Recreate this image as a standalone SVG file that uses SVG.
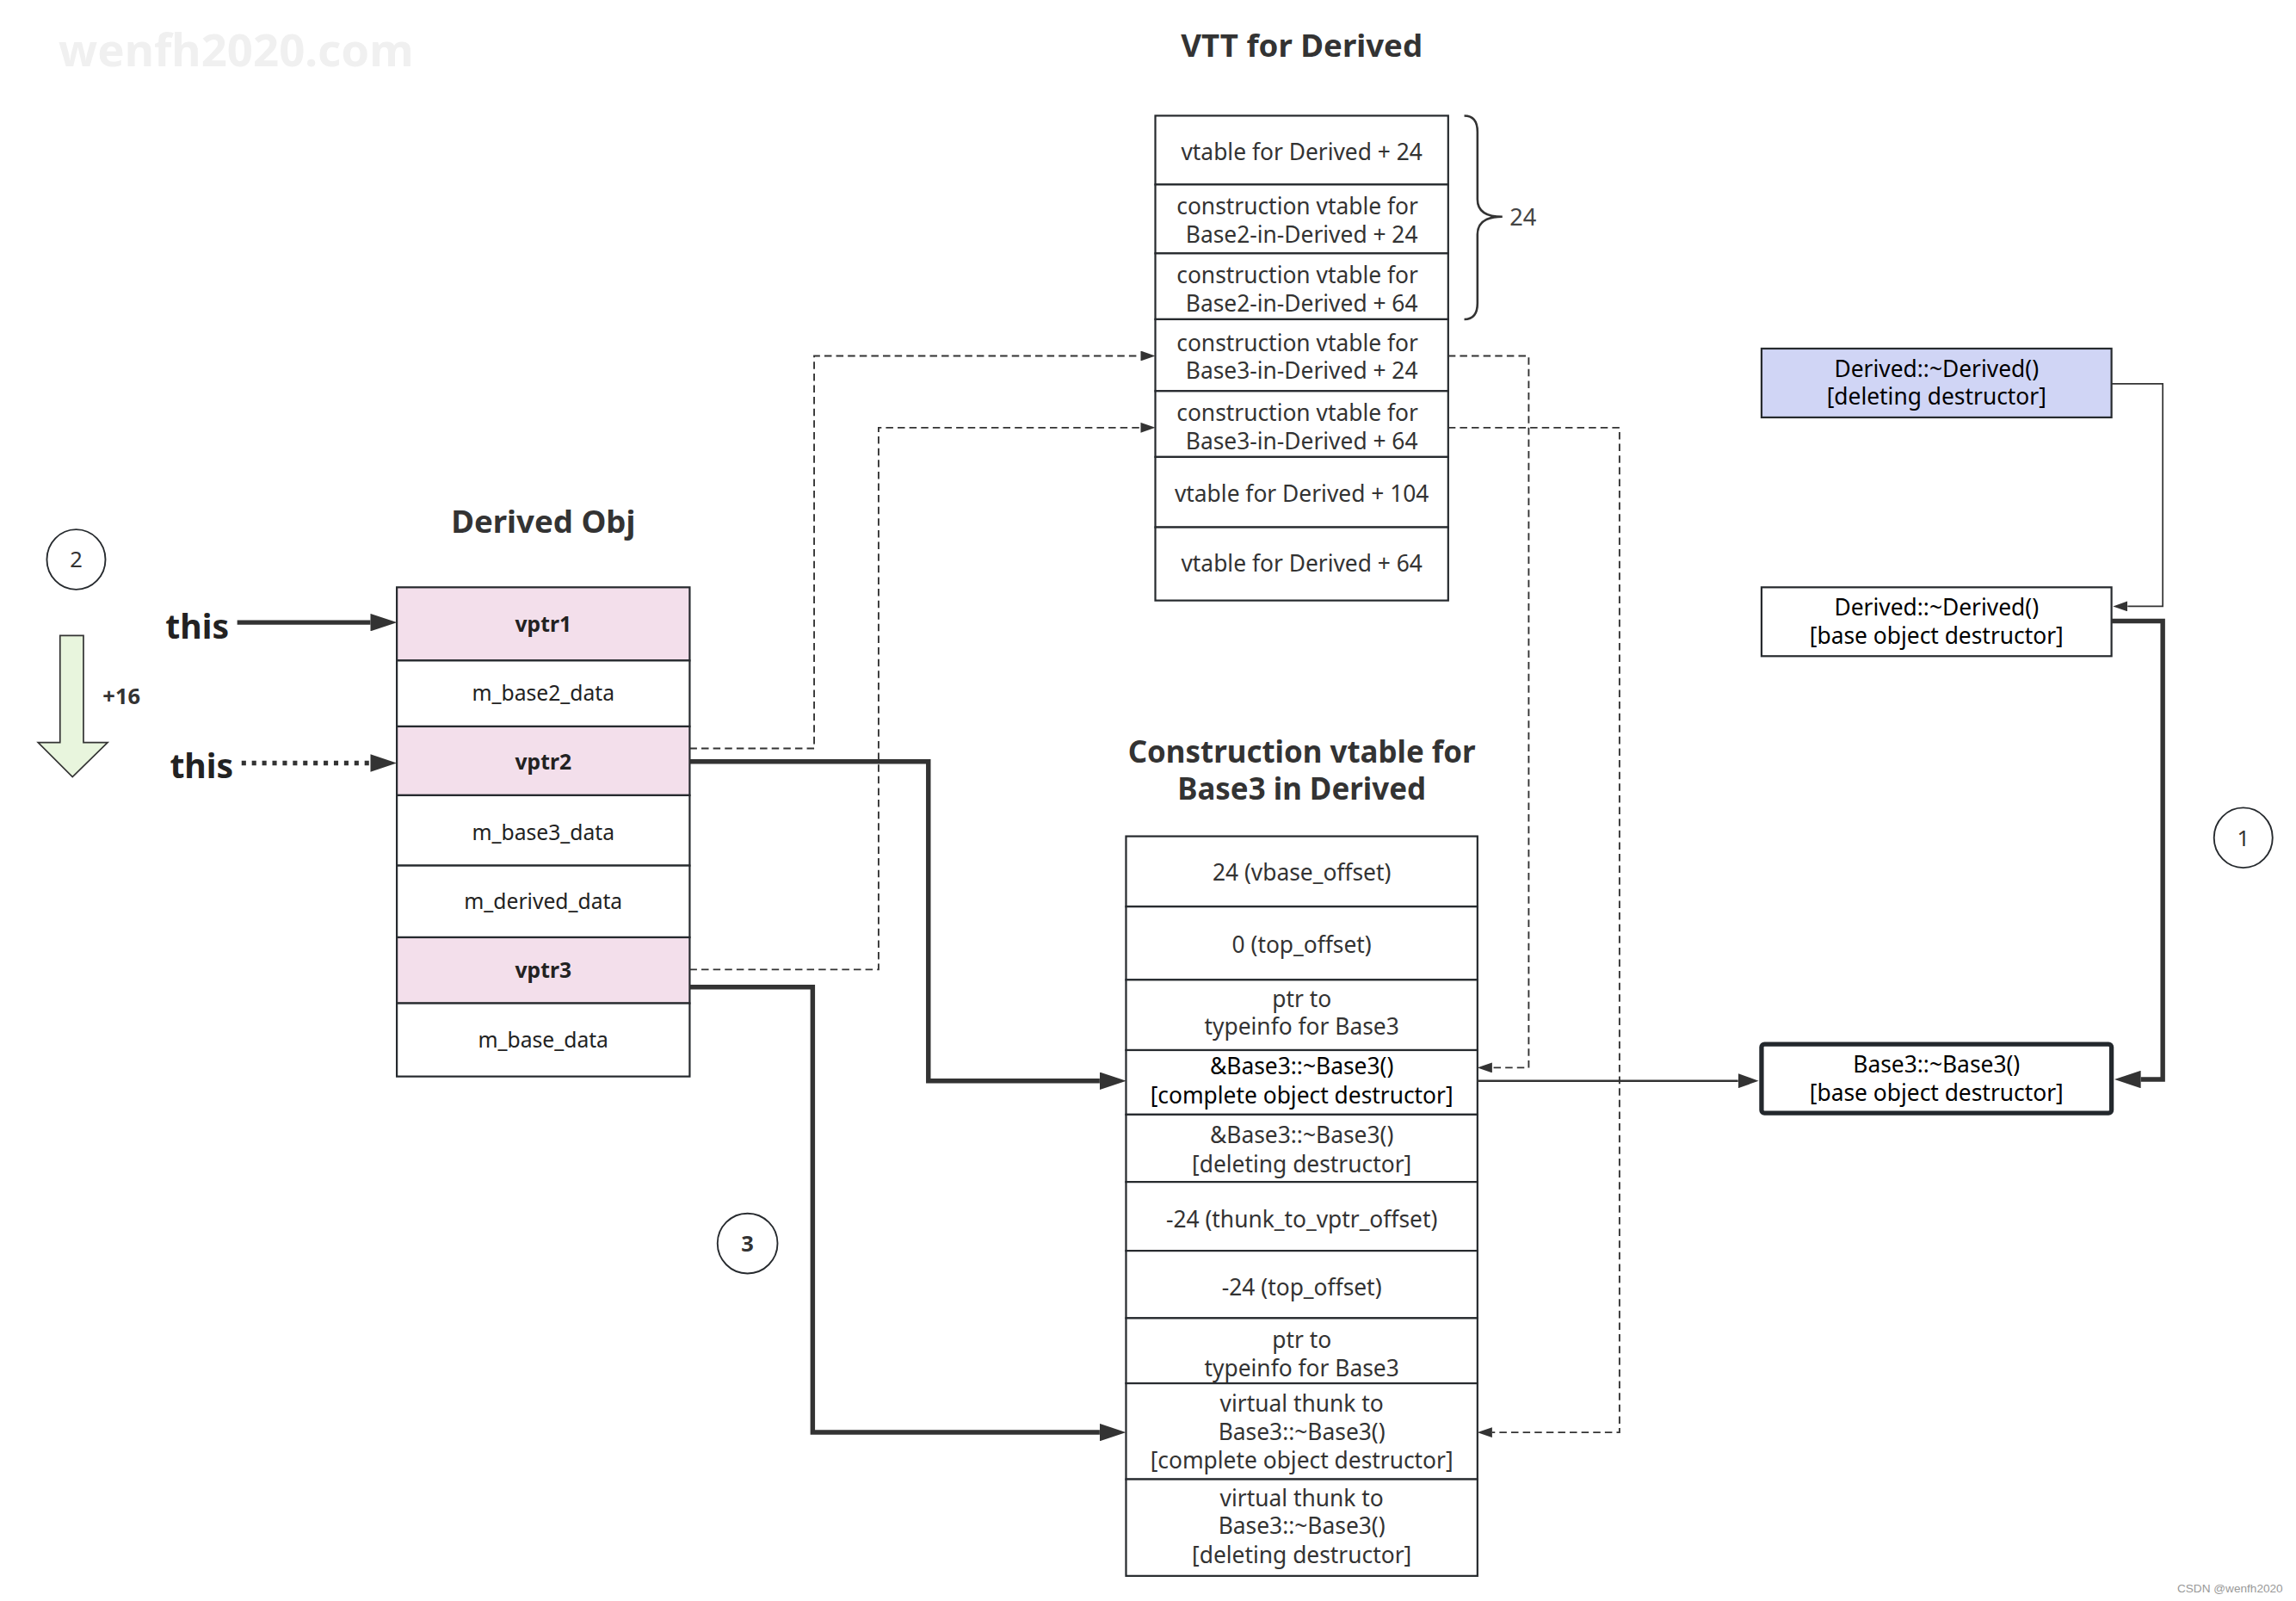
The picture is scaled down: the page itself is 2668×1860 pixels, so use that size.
<svg xmlns="http://www.w3.org/2000/svg" width="2668" height="1860" viewBox="0 0 2668 1860">
<defs>
<style>
.t{font-family:"Noto Sans",sans-serif;font-size:15.5px;fill:#333;text-anchor:middle}
.k{fill:#000}
.b{font-weight:bold}
.title{font-family:"Noto Sans",sans-serif;font-size:21.5px;font-weight:bold;fill:#333;text-anchor:middle}
.cell{fill:#fff;stroke:#262a2e;stroke-width:1.3}
.pink{fill:#f3dfeb}
.circ{fill:none;stroke:#262a2e;stroke-width:1.1}
.dash{fill:none;stroke:#333;stroke-width:1.1;stroke-dasharray:5 3}
.thick{fill:none;stroke:#333;stroke-width:3.2}
.thin{fill:none;stroke:#333;stroke-width:1}
.mid{fill:none;stroke:#333;stroke-width:1.5}
</style>
<marker id="aL" markerUnits="userSpaceOnUse" markerWidth="18" markerHeight="12" viewBox="0 0 18 12" refX="0" refY="6" orient="auto"><path d="M0,0L18,6L0,12z" fill="#333"/></marker>
<marker id="aM" markerUnits="userSpaceOnUse" markerWidth="14" markerHeight="10" viewBox="0 0 14 10" refX="0" refY="5" orient="auto"><path d="M0,0L14,5L0,10z" fill="#333"/></marker>
<marker id="aS" markerUnits="userSpaceOnUse" markerWidth="10" markerHeight="7" viewBox="0 0 10 7" refX="0" refY="3.5" orient="auto"><path d="M0,0L10,3.5L0,7z" fill="#333"/></marker>
</defs>
<rect width="2668" height="1860" fill="#fff"/>
<g transform="scale(1.70153)">

<g id="watermark">
<text x="40" y="45" style="font-family:'Noto Sans',sans-serif;font-size:31px;font-weight:bold;fill:#f0f0f0">wenfh2020.com</text>
<text x="1559" y="1087" style="font-family:'Liberation Sans',Arial,sans-serif;font-size:8px;fill:#999;text-anchor:end">CSDN @wenfh2020</text>
</g>

<g id="vtt">
<text class="title" x="889" y="39">VTT for Derived</text>
<rect class="cell" x="789" y="79" width="200" height="47"/>
<rect class="cell" x="789" y="126" width="200" height="47"/>
<rect class="cell" x="789" y="173" width="200" height="45"/>
<rect class="cell" x="789" y="218" width="200" height="49"/>
<rect class="cell" x="789" y="267" width="200" height="45"/>
<rect class="cell" x="789" y="312" width="200" height="48"/>
<rect class="cell" x="789" y="360" width="200" height="50"/>
<text class="t" x="889" y="109.5">vtable for Derived + 24</text>
<text class="t" x="886" y="146.5">construction vtable for</text>
<text class="t" x="889" y="165.5">Base2-in-Derived + 24</text>
<text class="t" x="886" y="193.5">construction vtable for</text>
<text class="t" x="889" y="212.5">Base2-in-Derived + 64</text>
<text class="t" x="886" y="239.5">construction vtable for</text>
<text class="t" x="889" y="258.5">Base3-in-Derived + 24</text>
<text class="t" x="886" y="287.5">construction vtable for</text>
<text class="t" x="889" y="306.5">Base3-in-Derived + 64</text>
<text class="t" x="889" y="342.5">vtable for Derived + 104</text>
<text class="t" x="889" y="390.5">vtable for Derived + 64</text>
</g>

<g id="brace">
<path d="M1000,79 Q1009,79 1009,90 V136 Q1009,148 1026,148 Q1009,148 1009,160 V207 Q1009,218 1000,218" fill="none" stroke="#333" stroke-width="1.5"/>
<text x="1031" y="154" style="font-family:'Noto Sans',sans-serif;font-size:16px;fill:#444">24</text>
</g>

<g id="derived-obj">
<text class="title" x="371" y="364">Derived Obj</text>
<rect class="cell pink" x="271" y="401" width="200" height="50"/>
<rect class="cell" x="271" y="451" width="200" height="45"/>
<rect class="cell pink" x="271" y="496" width="200" height="47"/>
<rect class="cell" x="271" y="543" width="200" height="48"/>
<rect class="cell" x="271" y="591" width="200" height="49"/>
<rect class="cell pink" x="271" y="640" width="200" height="45"/>
<rect class="cell" x="271" y="685" width="200" height="50"/>
<text class="t b" x="371" y="431.5" style="font-size:14.5px;fill:#222">vptr1</text>
<text class="t" x="371" y="478.5" style="font-size:14.5px;fill:#222">m_base2_data</text>
<text class="t b" x="371" y="525.5" style="font-size:14.5px;fill:#222">vptr2</text>
<text class="t" x="371" y="573.5" style="font-size:14.5px;fill:#222">m_base3_data</text>
<text class="t" x="371" y="620.5" style="font-size:14.5px;fill:#222">m_derived_data</text>
<text class="t b" x="371" y="667.5" style="font-size:14.5px;fill:#222">vptr3</text>
<text class="t" x="371" y="715.5" style="font-size:14.5px;fill:#222">m_base_data</text>
</g>

<g id="step2">
<ellipse class="circ" cx="52" cy="382" rx="20" ry="20.5"/>
<text class="t" x="52" y="387.5" style="font-size:15px">2</text>
<polygon points="41,434 57,434 57,507 73.5,507 49.5,530.5 26,507 41,507" fill="#e8f5dd" stroke="#333" stroke-width="1"/>
<text class="t b" x="83" y="481" style="font-size:15px">+16</text>
</g>

<g id="this-labels">
<text x="113" y="436" style="font-family:'Noto Sans',sans-serif;font-size:23px;font-weight:bold;fill:#222">this</text>
<text x="116" y="531" style="font-family:'Noto Sans',sans-serif;font-size:23px;font-weight:bold;fill:#222">this</text>
</g>

<g id="construction-vtable">
<text class="title" x="889" y="521" style="font-size:20.5px">Construction vtable for</text>
<text class="title" x="889" y="546" style="font-size:20.5px">Base3 in Derived</text>
<rect class="cell" x="769" y="571" width="240" height="48"/>
<rect class="cell" x="769" y="619" width="240" height="50"/>
<rect class="cell" x="769" y="669" width="240" height="48"/>
<rect class="cell" x="769" y="717" width="240" height="44"/>
<rect class="cell" x="769" y="761" width="240" height="46"/>
<rect class="cell" x="769" y="807" width="240" height="47"/>
<rect class="cell" x="769" y="854" width="240" height="46"/>
<rect class="cell" x="769" y="900" width="240" height="44.5"/>
<rect class="cell" x="769" y="944.5" width="240" height="65.5"/>
<rect class="cell" x="769" y="1010" width="240" height="66"/>
<text class="t" x="889" y="601.5">24 (vbase_offset)</text>
<text class="t" x="889" y="650.5">0 (top_offset)</text>
<text class="t" x="889" y="687.5">ptr to</text>
<text class="t" x="889" y="706.5">typeinfo for Base3</text>
<text class="t k" x="889" y="733.5">&amp;Base3::~Base3()</text>
<text class="t k" x="889" y="753.5">[complete object destructor]</text>
<text class="t" x="889" y="780.5">&amp;Base3::~Base3()</text>
<text class="t" x="889" y="800.5">[deleting destructor]</text>
<text class="t" x="889" y="838">-24 (thunk_to_vptr_offset)</text>
<text class="t" x="889" y="884.5">-24 (top_offset)</text>
<text class="t" x="889" y="920.5">ptr to</text>
<text class="t" x="889" y="939.5">typeinfo for Base3</text>
<text class="t" x="889" y="964">virtual thunk to</text>
<text class="t" x="889" y="983.5">Base3::~Base3()</text>
<text class="t" x="889" y="1002.5">[complete object destructor]</text>
<text class="t" x="889" y="1028.5">virtual thunk to</text>
<text class="t" x="889" y="1047.5">Base3::~Base3()</text>
<text class="t" x="889" y="1067">[deleting destructor]</text>
</g>

<g id="step3">
<ellipse class="circ" cx="510.5" cy="849" rx="20.5" ry="20.5"/>
<text class="t b" x="510.5" y="854.5" style="font-size:15px">3</text>
</g>

<g id="derived-deleting-dtor">
<rect x="1203" y="238" width="239" height="47" fill="#d0d5f5" stroke="#262a2e" stroke-width="1.3"/>
<text class="t k" x="1322.5" y="257.5">Derived::~Derived()</text>
<text class="t k" x="1322.5" y="276.5">[deleting destructor]</text>
</g>

<g id="derived-base-dtor">
<rect class="cell" x="1203" y="401" width="239" height="47"/>
<text class="t k" x="1322.5" y="420.5">Derived::~Derived()</text>
<text class="t k" x="1322.5" y="439.5">[base object destructor]</text>
</g>

<g id="base3-base-dtor">
<rect x="1203" y="713" width="239" height="47" rx="2" fill="#fff" stroke="#23282d" stroke-width="3.1"/>
<text class="t k" x="1322.5" y="732.5">Base3::~Base3()</text>
<text class="t k" x="1322.5" y="751.5">[base object destructor]</text>
</g>

<g id="step1">
<ellipse class="circ" cx="1532" cy="572" rx="20" ry="20.5"/>
<text class="t" x="1532" y="577.5" style="font-size:15px">1</text>
</g>

<g id="connectors">
<path class="thick" d="M162,425 H253" marker-end="url(#aL)"/>
<path class="thick" d="M165,521 H253" stroke-dasharray="3 4" marker-end="url(#aL)"/>
<path class="dash" d="M471,511 H556 V243 H779" marker-end="url(#aS)"/>
<path class="dash" d="M471,662 H600 V292 H779" marker-end="url(#aS)"/>
<path class="dash" d="M989,243 H1044 V729 H1019" marker-end="url(#aS)"/>
<path class="dash" d="M989,292 H1106 V978 H1019" marker-end="url(#aS)"/>
<path class="thick" d="M471,520 H634 V738 H751" marker-end="url(#aL)"/>
<path class="thick" d="M471,674 H555 V978 H751" marker-end="url(#aL)"/>
<path class="mid" d="M1009,738 H1187" marker-end="url(#aM)"/>
<path class="thin" d="M1442,262 H1477 V414 H1453" marker-end="url(#aS)"/>
<path class="thick" d="M1442,424 H1477 V737 H1462" marker-end="url(#aL)"/>
</g>

</g>
</svg>
